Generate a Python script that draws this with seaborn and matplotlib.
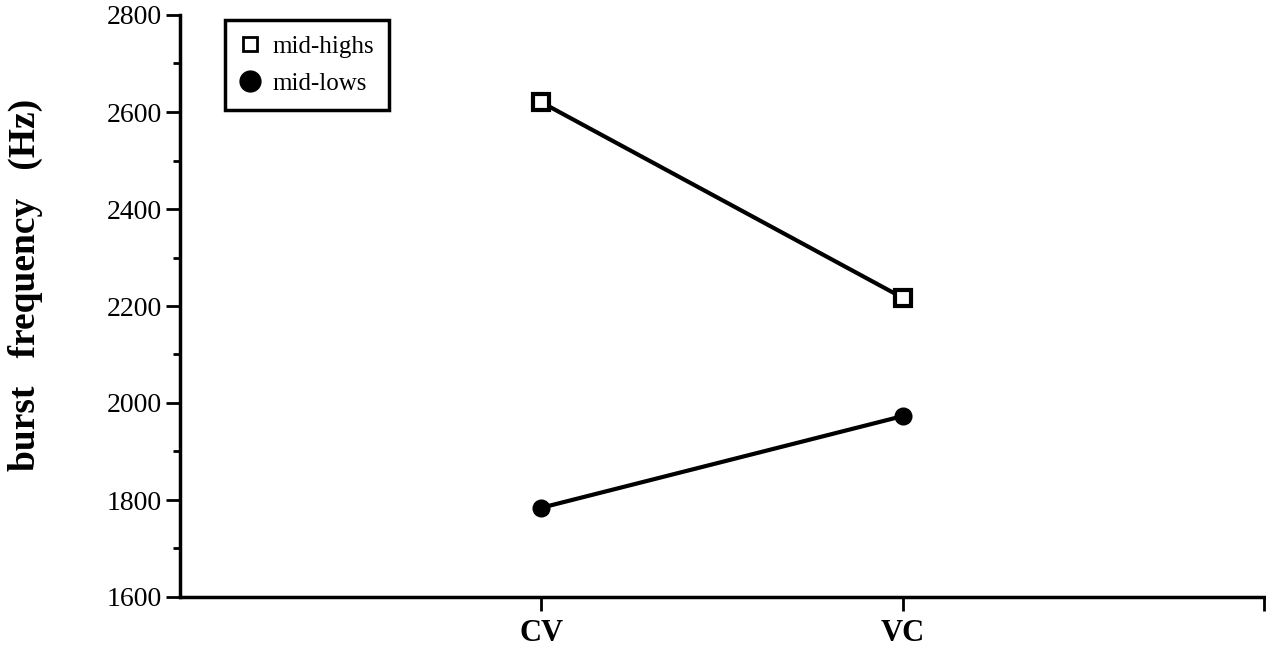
import matplotlib
matplotlib.use("Agg")
import matplotlib.pyplot as plt
from matplotlib.lines import Line2D
from matplotlib.ticker import MultipleLocator
import seaborn as sns
import pandas as pd

categories = ["CV", "VC"]
mid_highs = [2620, 2217]
mid_lows = [1784, 1973]
series_names = ["mid-highs", "mid-lows"]
y_ticks = [1600, 1800, 2000, 2200, 2400, 2600, 2800]

df = pd.DataFrame({
    "order": categories * 2,
    "freq": mid_highs + mid_lows,
    "series": [series_names[0]] * 2 + [series_names[1]] * 2,
})
df["pos"] = df["order"].map({c: i for i, c in enumerate(categories)})

sns.set_style("ticks")
plt.rcParams["font.family"] = ["Liberation Serif", "DejaVu Serif"]
plt.rcParams.update({"text.color": "black", "axes.labelcolor": "black",
                     "xtick.color": "black", "ytick.color": "black",
                     "axes.edgecolor": "black"})

fig = plt.figure(figsize=(12.66, 6.46), dpi=100)
ax = fig.add_axes([180 / 1266, 1 - 597 / 646, (1264 - 180) / 1266, (597 - 15) / 646])

sns.lineplot(data=df, x="pos", y="freq", hue="series", style="series",
             palette={"mid-highs": "black", "mid-lows": "black"},
             markers={"mid-highs": "s", "mid-lows": "o"},
             dashes=False, linewidth=3, markersize=12, ax=ax, legend=False)
for line, fc in zip(ax.lines, ["white", "black"]):
    line.set_markerfacecolor(fc)
    line.set_markeredgecolor("black")
    line.set_markeredgewidth(3 if fc == "white" else 1)

ax.set_xlim(-1, 2)
ax.set_ylim(1600, 2800)
ax.set_xticks([0, 1, 2])
ax.set_xticklabels(categories + [""], fontsize=22, fontweight="bold", color="black")
ax.set_yticks(y_ticks)
ax.set_yticklabels([str(t) for t in y_ticks], fontsize=20, color="black")
ax.yaxis.set_minor_locator(MultipleLocator(100))
ax.tick_params(axis="both", which="major", direction="out", length=10, width=2, color="black", pad=3)
ax.tick_params(axis="y", which="minor", direction="out", length=5, width=2, color="black")
ax.tick_params(axis="x", pad=6)
for s in ["top", "right"]:
    ax.spines[s].set_visible(False)
for s in ["left", "bottom"]:
    ax.spines[s].set_linewidth(2.5)
    ax.spines[s].set_color("black")

ax.set_xlabel("")
ax.set_ylabel("burst   frequency   (Hz)", fontsize=27, fontweight="bold", color="black")
ax.yaxis.set_label_coords(-137 / 1084, (597 - 285) / 582)

handles = [
    Line2D([], [], linestyle="none", marker="s", markersize=10, markerfacecolor="white",
           markeredgecolor="black", markeredgewidth=2, label=series_names[0]),
    Line2D([], [], linestyle="none", marker="o", markersize=15, markerfacecolor="black",
           markeredgecolor="black", label=series_names[1]),
]
leg = ax.legend(handles=handles, loc="upper left", bbox_to_anchor=(45 / 1084, 1 - 5 / 582),
                prop={"family": "Liberation Serif", "size": 18}, frameon=True, fancybox=False,
                framealpha=1, edgecolor="black", labelcolor="black", handletextpad=0.5,
                borderpad=0.6, labelspacing=0.6, handlelength=0.8, borderaxespad=0)
leg.get_frame().set_linewidth(2.5)
leg.get_frame().set_edgecolor("black")

fig.savefig("out.png", dpi=100)
